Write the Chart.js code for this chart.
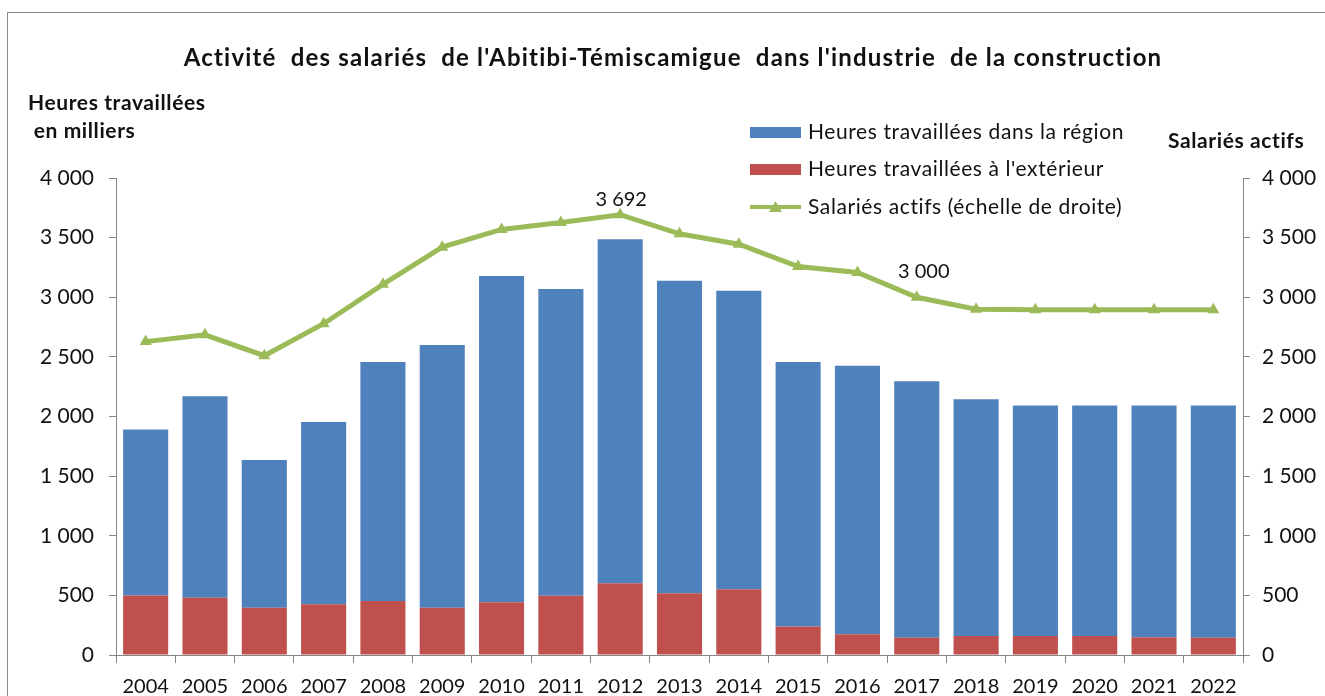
<!DOCTYPE html>
<html>
<head>
<meta charset="utf-8">
<script src="https://cdn.jsdelivr.net/npm/chart.js"></script>
<style>
  html, body { margin: 0; padding: 0; background: #fff; }
  #wrap { position: relative; width: 1325px; height: 696px; overflow: hidden; }
  #frame { position: absolute; left: 7px; top: 12px; width: 1340px; height: 720px; border: 1px solid #8a8a8a; box-sizing: border-box; }
  canvas { position: absolute; left: 0; top: 0; }
</style>
</head>
<body>
<div id="wrap">
  <div id="frame"></div>
  <canvas id="chart" width="1325" height="696"></canvas>
</div>
<script>
// Data
const years = ['2004','2005','2006','2007','2008','2009','2010','2011','2012','2013','2014','2015','2016','2017','2018','2019','2020','2021','2022'];
const heuresExterieur = [500, 480, 397, 425, 453, 397, 442, 497, 601, 517, 551, 238, 173, 145, 159, 159, 159, 148, 145];
const heuresRegion = [1390, 1690, 1238, 1529, 2004, 2203, 2736, 2572, 2886, 2621, 2503, 2218, 2252, 2151, 1986, 1933, 1933, 1944, 1947];
const salariesActifs = [2628, 2685, 2510, 2778, 3108, 3420, 3569, 3627, 3692, 3532, 3445, 3258, 3208, 3000, 2900, 2895, 2895, 2895, 2895];
const labelledPoints = [8, 13]; // 2012 and 2017 show their value
const tickValues = [0, 500, 1000, 1500, 2000, 2500, 3000, 3500, 4000];

const FONT = 'Lato, "Open Sans", sans-serif';
const BLUE = '#4F81BD', RED = '#C0504D', GREEN = '#9BBB59', AXIS = '#868686';

function fmt(v) {
  return String(Math.round(v)).replace(/\B(?=(\d{3})+(?!\d))/g, ' ');
}

// Titles, legend and point labels drawn on the canvas
const decorations = {
  id: 'decorations',
  afterDraw(chart) {
    const ctx = chart.ctx;
    ctx.save();
    ctx.fillStyle = '#111';
    ctx.textBaseline = 'middle';
    // main title
    ctx.font = 'bold 24px ' + FONT;
    ctx.letterSpacing = '1.2px';
    ctx.textAlign = 'center';
    ctx.fillText("Activité  des salariés  de l'Abitibi-Témiscamigue  dans l'industrie  de la construction", 673, 58);
    // axis titles
    ctx.font = 'bold 21px ' + FONT;
    ctx.letterSpacing = '0.6px';
    ctx.textAlign = 'left';
    ctx.fillText('Heures travaillées', 28, 103);
    ctx.fillText(' en milliers', 28, 131);
    ctx.fillText('Salariés actifs', 1168, 141);

    // legend
    ctx.font = '21px ' + FONT;
    ctx.letterSpacing = '0.6px';
    const ds = chart.data.datasets;
    const items = [ds[1], ds[0], ds[2]];
    const rowsY = [132, 169, 207];
    items.forEach((d, i) => {
      const y = rowsY[i];
      if (d.type === 'line') {
        ctx.strokeStyle = d.borderColor;
        ctx.lineWidth = 4;
        ctx.beginPath(); ctx.moveTo(750, y); ctx.lineTo(801, y); ctx.stroke();
        ctx.fillStyle = d.borderColor;
        ctx.beginPath(); ctx.moveTo(775.5, y - 6); ctx.lineTo(782, y + 5); ctx.lineTo(769, y + 5); ctx.closePath(); ctx.fill();
      } else {
        ctx.fillStyle = d.backgroundColor;
        ctx.fillRect(750, y - 5, 51, 11);
      }
      ctx.fillStyle = '#111';
      ctx.fillText(d.label, 808, y);
    });

    // point labels
    const meta = chart.getDatasetMeta(2);
    ctx.font = '20px ' + FONT;
    ctx.letterSpacing = '0px';
    ctx.textAlign = 'center';
    const offsets = { 8: [1, -15], 13: [7, -26] };
    labelledPoints.forEach(i => {
      const p = meta.data[i];
      ctx.fillText(fmt(salariesActifs[i]), p.x + offsets[i][0], p.y + offsets[i][1]);
    });
    ctx.restore();
  }
};

new Chart(document.getElementById('chart'), {
  data: {
    labels: years,
    datasets: [
      { type: 'bar', label: "Heures travaillées à l'extérieur", data: heuresExterieur, backgroundColor: RED, yAxisID: 'y', order: 1, barPercentage: 0.76, categoryPercentage: 1 },
      { type: 'bar', label: 'Heures travaillées dans la région', data: heuresRegion, backgroundColor: BLUE, yAxisID: 'y', order: 1, barPercentage: 0.76, categoryPercentage: 1 },
      { type: 'line', label: 'Salariés actifs (échelle de droite)', data: salariesActifs, borderColor: GREEN, backgroundColor: GREEN, borderWidth: 5, pointStyle: 'triangle', pointRadius: 7, pointBorderWidth: 0, tension: 0, yAxisID: 'y2', order: 0 }
    ]
  },
  options: {
    responsive: false,
    animation: false,
    layout: { padding: { top: 178, left: 0, right: 0, bottom: 0 } },
    plugins: { legend: { display: false }, title: { display: false }, tooltip: { enabled: false } },
    scales: {
      x: {
        stacked: true,
        grid: { offset: true, drawOnChartArea: false, drawTicks: true, tickLength: 8, color: AXIS },
        border: { color: AXIS, width: 1 },
        ticks: { color: '#111', font: { family: FONT, size: 20 }, padding: 12, maxRotation: 0, autoSkip: false },
        afterFit(s) { s.height = 41; }
      },
      y: {
        stacked: true,
        position: 'left',
        min: 0, max: 4000,
        afterBuildTicks(s) { s.ticks = tickValues.map(v => ({ value: v })); },
        grid: { drawOnChartArea: false, drawTicks: true, tickLength: 7, color: AXIS },
        border: { color: AXIS, width: 1 },
        ticks: { color: '#111', font: { family: FONT, size: 21 }, padding: 15, callback: v => fmt(v) },
        afterFit(s) { s.width = 116; }
      },
      y2: {
        position: 'right',
        min: 0, max: 4000,
        afterBuildTicks(s) { s.ticks = tickValues.map(v => ({ value: v })); },
        grid: { drawOnChartArea: false, drawTicks: true, tickLength: 7, color: AXIS },
        border: { color: AXIS, width: 1 },
        ticks: { color: '#111', font: { family: FONT, size: 21 }, padding: 12, callback: v => fmt(v) },
        afterFit(s) { s.width = 82; }
      }
    }
  },
  plugins: [decorations]
});
</script>
</body>
</html>
